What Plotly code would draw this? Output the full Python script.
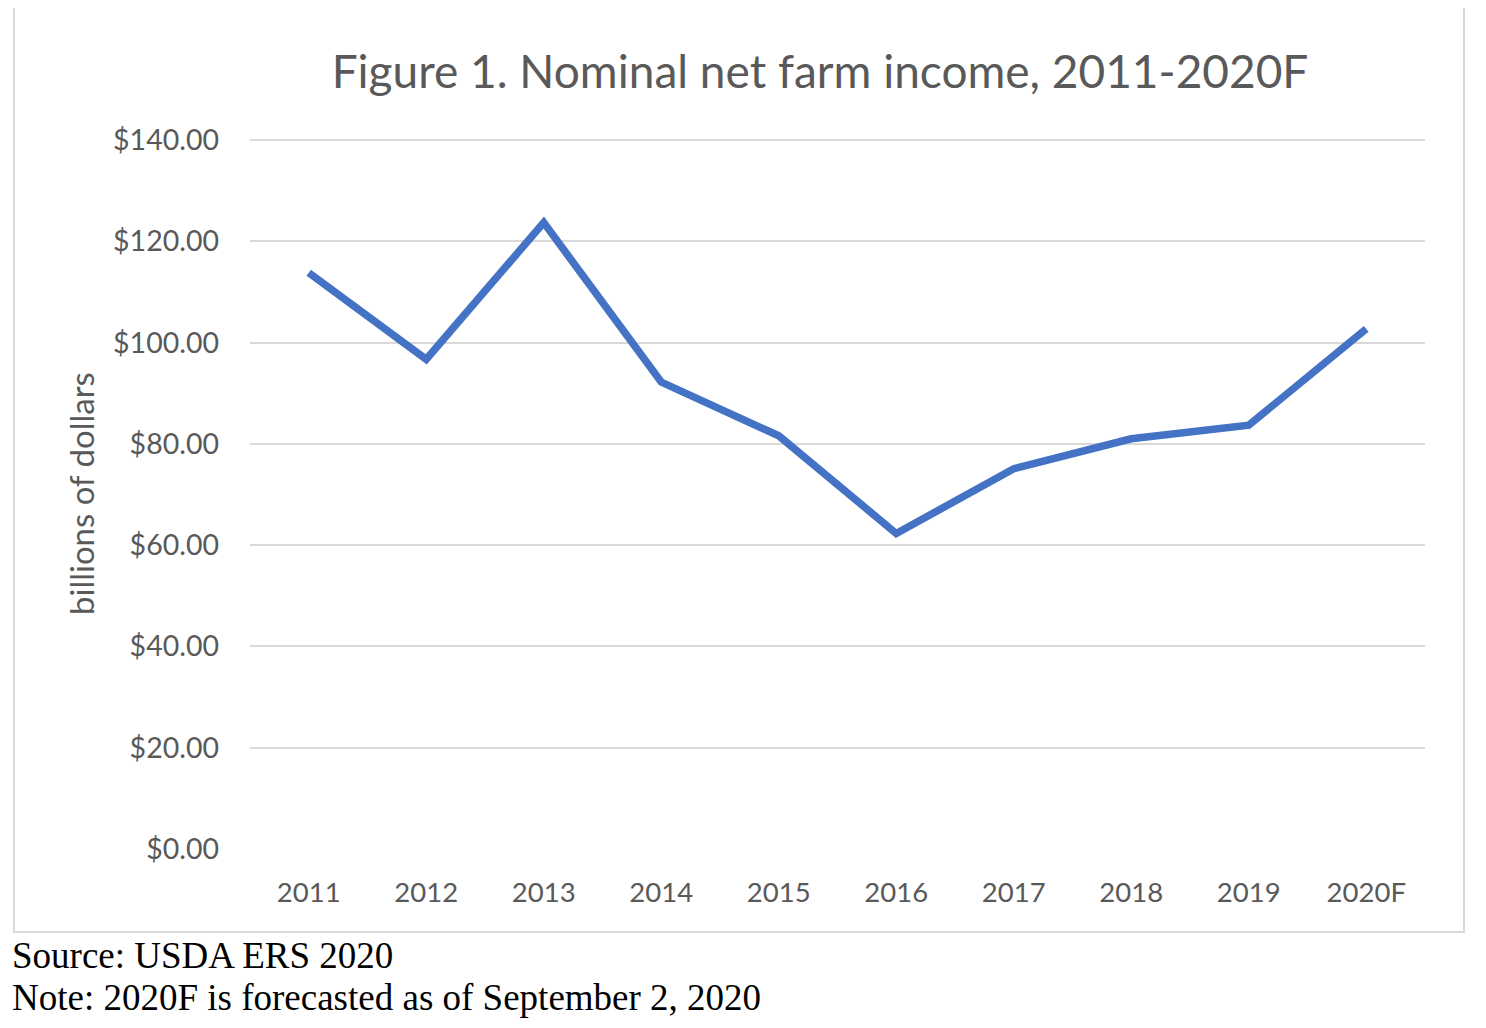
import plotly.graph_objects as go

years = ["2011", "2012", "2013", "2014", "2015", "2016", "2017", "2018", "2019", "2020F"]
net_farm_income = [113.8, 96.7, 123.7, 92.2, 81.6, 62.3, 75.1, 81.0, 83.7, 102.7]
y_ticks = [0, 20, 40, 60, 80, 100, 120, 140]
y_tick_labels = ["$%.2f" % v for v in y_ticks]

TXT = "#595959"
OFF = 8  # browser body margin
W, H = 1486 - OFF, 1028 - OFF
L, T = 250 - OFF, 138 - OFF
R = W - (1425 - OFF)
B = H - (849 - OFF)
pw, ph = W - L - R, H - T - B

def px(x):
    return (x - OFF - L) / pw

def py(y):
    return (H - B - (y - OFF)) / ph

fig = go.Figure(go.Scatter(
    x=years, y=net_farm_income, mode="lines",
    line=dict(color="#4472C4", width=7.5), hoverinfo="x+y"))

fig.update_layout(
    width=W, height=H,
    margin=dict(l=L, r=R, t=T, b=B),
    paper_bgcolor="white", plot_bgcolor="white",
    showlegend=False,
    font=dict(family="Lato", color=TXT),
    title=dict(text="Figure 1. Nominal net farm income, 2011-2020F",
               font=dict(family="Lato", size=46, color=TXT),
               xref="container", x=(820 - OFF) / W, xanchor="center",
               yref="container", y=1 - (72 - OFF) / H, yanchor="middle"),
    xaxis=dict(type="category", range=[-0.5, 9.5], showgrid=False,
               zeroline=False, showline=False, ticks="",
               tickfont=dict(size=27.5, color=TXT), ticklabelstandoff=24),
    yaxis=dict(range=[0, 140.4], tickvals=y_ticks, ticktext=y_tick_labels,
               showgrid=True, gridcolor="#D9D9D9", gridwidth=2,
               zeroline=False, showline=False, ticks="",
               tickfont=dict(size=28.5, color=TXT), ticklabelstandoff=30),
    shapes=[dict(type="rect", xref="paper", yref="paper",
                 x0=px(14), x1=px(1464), y0=py(932), y1=py(7),
                 line=dict(color="#D9D9D9", width=2), layer="below")],
    annotations=[
        dict(text="billions of dollars", xref="paper", yref="paper",
             x=px(81), y=py(494), textangle=-90, showarrow=False,
             xanchor="center", yanchor="middle",
             font=dict(family="Lato", size=33, color=TXT)),
        dict(text="Source: USDA ERS 2020", xref="paper", yref="paper",
             x=px(10), y=py(955), showarrow=False, xanchor="left", yanchor="middle",
             font=dict(family="Liberation Serif", size=37, color="black")),
        dict(text="Note: 2020F is forecasted as of September 2, 2020", xref="paper", yref="paper",
             x=px(10), y=py(997), showarrow=False, xanchor="left", yanchor="middle",
             font=dict(family="Liberation Serif", size=37, color="black")),
    ],
)

fig.write_html("out.html")
